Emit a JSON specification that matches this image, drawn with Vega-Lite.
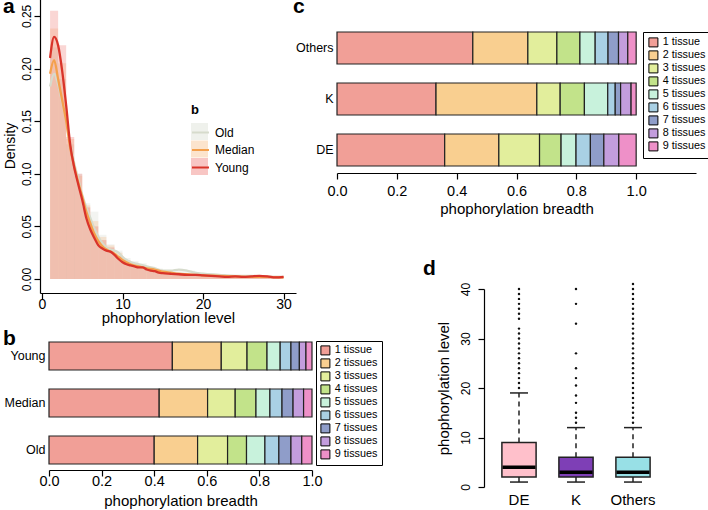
{
  "$schema": "https://vega.github.io/schema/vega-lite/v6.json",
  "padding": {"left": 2, "top": -4, "right": 0, "bottom": 0},
  "config": {
    "font": "Liberation Sans",
    "view": {"stroke": null},
    "axis": {"domainColor": "black", "tickColor": "black", "labelColor": "black", "titleColor": "black", "grid": false, "titleFontWeight": "normal", "domainWidth": 1.2, "tickWidth": 1.2, "tickSize": 6, "labelFlush": false, "labelOverlap": false},
    "legend": {"labelColor": "black", "titleColor": "black"},
    "title": {"fontSize": 21, "fontWeight": "bold", "anchor": "start", "frame": "group", "baseline": "top", "color": "black"}
  },
  "datasets": {
    "hist": [
      {"grp": "Old", "x0": 1, "x1": 2, "d": 0.22}, {"grp": "Old", "x0": 2, "x1": 3, "d": 0.19}, {"grp": "Old", "x0": 3, "x1": 4, "d": 0.128}, {"grp": "Old", "x0": 4, "x1": 5, "d": 0.1}, {"grp": "Old", "x0": 5, "x1": 6, "d": 0.072}, {"grp": "Old", "x0": 6, "x1": 7, "d": 0.064}, {"grp": "Old", "x0": 7, "x1": 8, "d": 0.042}, {"grp": "Old", "x0": 8, "x1": 9, "d": 0.033}, {"grp": "Old", "x0": 9, "x1": 10, "d": 0.027}, {"grp": "Old", "x0": 10, "x1": 11, "d": 0.02}, {"grp": "Old", "x0": 11, "x1": 12, "d": 0.017}, {"grp": "Old", "x0": 12, "x1": 13, "d": 0.015}, {"grp": "Old", "x0": 13, "x1": 14, "d": 0.012}, {"grp": "Old", "x0": 14, "x1": 15, "d": 0.01}, {"grp": "Old", "x0": 15, "x1": 16, "d": 0.008}, {"grp": "Old", "x0": 16, "x1": 17, "d": 0.008}, {"grp": "Old", "x0": 17, "x1": 18, "d": 0.009}, {"grp": "Old", "x0": 18, "x1": 19, "d": 0.008}, {"grp": "Old", "x0": 19, "x1": 20, "d": 0.006}, {"grp": "Old", "x0": 20, "x1": 21, "d": 0.005}, {"grp": "Old", "x0": 21, "x1": 22, "d": 0.004}, {"grp": "Old", "x0": 22, "x1": 23, "d": 0.003}, {"grp": "Old", "x0": 23, "x1": 24, "d": 0.003}, {"grp": "Old", "x0": 24, "x1": 25, "d": 0.003}, {"grp": "Old", "x0": 25, "x1": 26, "d": 0.003}, {"grp": "Old", "x0": 26, "x1": 27, "d": 0.003}, {"grp": "Old", "x0": 27, "x1": 28, "d": 0.003}, {"grp": "Old", "x0": 28, "x1": 29, "d": 0.003}, {"grp": "Old", "x0": 29, "x1": 30, "d": 0.003},
      {"grp": "Median", "x0": 1, "x1": 2, "d": 0.238}, {"grp": "Median", "x0": 2, "x1": 3, "d": 0.205}, {"grp": "Median", "x0": 3, "x1": 4, "d": 0.133}, {"grp": "Median", "x0": 4, "x1": 5, "d": 0.098}, {"grp": "Median", "x0": 5, "x1": 6, "d": 0.07}, {"grp": "Median", "x0": 6, "x1": 7, "d": 0.055}, {"grp": "Median", "x0": 7, "x1": 8, "d": 0.04}, {"grp": "Median", "x0": 8, "x1": 9, "d": 0.032}, {"grp": "Median", "x0": 9, "x1": 10, "d": 0.025}, {"grp": "Median", "x0": 10, "x1": 11, "d": 0.018}, {"grp": "Median", "x0": 11, "x1": 12, "d": 0.014}, {"grp": "Median", "x0": 12, "x1": 13, "d": 0.012}, {"grp": "Median", "x0": 13, "x1": 14, "d": 0.01}, {"grp": "Median", "x0": 14, "x1": 15, "d": 0.009}, {"grp": "Median", "x0": 15, "x1": 16, "d": 0.007}, {"grp": "Median", "x0": 16, "x1": 17, "d": 0.006}, {"grp": "Median", "x0": 17, "x1": 18, "d": 0.005}, {"grp": "Median", "x0": 18, "x1": 19, "d": 0.005}, {"grp": "Median", "x0": 19, "x1": 20, "d": 0.004}, {"grp": "Median", "x0": 20, "x1": 21, "d": 0.004}, {"grp": "Median", "x0": 21, "x1": 22, "d": 0.003}, {"grp": "Median", "x0": 22, "x1": 23, "d": 0.003}, {"grp": "Median", "x0": 23, "x1": 24, "d": 0.003}, {"grp": "Median", "x0": 24, "x1": 25, "d": 0.003}, {"grp": "Median", "x0": 25, "x1": 26, "d": 0.003}, {"grp": "Median", "x0": 26, "x1": 27, "d": 0.003}, {"grp": "Median", "x0": 27, "x1": 28, "d": 0.003}, {"grp": "Median", "x0": 28, "x1": 29, "d": 0.003}, {"grp": "Median", "x0": 29, "x1": 30, "d": 0.003},
      {"grp": "Young", "x0": 1, "x1": 2, "d": 0.255}, {"grp": "Young", "x0": 2, "x1": 3, "d": 0.222}, {"grp": "Young", "x0": 3, "x1": 4, "d": 0.135}, {"grp": "Young", "x0": 4, "x1": 5, "d": 0.1}, {"grp": "Young", "x0": 5, "x1": 6, "d": 0.068}, {"grp": "Young", "x0": 6, "x1": 7, "d": 0.05}, {"grp": "Young", "x0": 7, "x1": 8, "d": 0.037}, {"grp": "Young", "x0": 8, "x1": 9, "d": 0.03}, {"grp": "Young", "x0": 9, "x1": 10, "d": 0.022}, {"grp": "Young", "x0": 10, "x1": 11, "d": 0.016}, {"grp": "Young", "x0": 11, "x1": 12, "d": 0.013}, {"grp": "Young", "x0": 12, "x1": 13, "d": 0.011}, {"grp": "Young", "x0": 13, "x1": 14, "d": 0.009}, {"grp": "Young", "x0": 14, "x1": 15, "d": 0.007}, {"grp": "Young", "x0": 15, "x1": 16, "d": 0.006}, {"grp": "Young", "x0": 16, "x1": 17, "d": 0.005}, {"grp": "Young", "x0": 17, "x1": 18, "d": 0.005}, {"grp": "Young", "x0": 18, "x1": 19, "d": 0.004}, {"grp": "Young", "x0": 19, "x1": 20, "d": 0.004}, {"grp": "Young", "x0": 20, "x1": 21, "d": 0.003}, {"grp": "Young", "x0": 21, "x1": 22, "d": 0.003}, {"grp": "Young", "x0": 22, "x1": 23, "d": 0.003}, {"grp": "Young", "x0": 23, "x1": 24, "d": 0.003}, {"grp": "Young", "x0": 24, "x1": 25, "d": 0.003}, {"grp": "Young", "x0": 25, "x1": 26, "d": 0.003}, {"grp": "Young", "x0": 26, "x1": 27, "d": 0.003}, {"grp": "Young", "x0": 27, "x1": 28, "d": 0.003}, {"grp": "Young", "x0": 28, "x1": 29, "d": 0.003}, {"grp": "Young", "x0": 29, "x1": 30, "d": 0.003}
    ],
    "dens": [
      {"grp": "Old", "x": 1, "d": 0.183}, {"grp": "Old", "x": 1.5, "d": 0.195}, {"grp": "Old", "x": 2, "d": 0.185}, {"grp": "Old", "x": 2.5, "d": 0.168}, {"grp": "Old", "x": 3, "d": 0.15}, {"grp": "Old", "x": 3.5, "d": 0.128}, {"grp": "Old", "x": 4, "d": 0.11}, {"grp": "Old", "x": 4.5, "d": 0.095}, {"grp": "Old", "x": 5, "d": 0.08}, {"grp": "Old", "x": 5.5, "d": 0.068}, {"grp": "Old", "x": 6, "d": 0.058}, {"grp": "Old", "x": 6.5, "d": 0.048}, {"grp": "Old", "x": 7, "d": 0.04}, {"grp": "Old", "x": 7.5, "d": 0.034}, {"grp": "Old", "x": 8, "d": 0.03}, {"grp": "Old", "x": 8.5, "d": 0.028}, {"grp": "Old", "x": 9, "d": 0.027}, {"grp": "Old", "x": 9.5, "d": 0.025}, {"grp": "Old", "x": 10, "d": 0.021}, {"grp": "Old", "x": 10.5, "d": 0.018}, {"grp": "Old", "x": 11, "d": 0.016}, {"grp": "Old", "x": 12, "d": 0.014}, {"grp": "Old", "x": 13, "d": 0.012}, {"grp": "Old", "x": 14, "d": 0.01}, {"grp": "Old", "x": 15, "d": 0.008}, {"grp": "Old", "x": 16, "d": 0.008}, {"grp": "Old", "x": 17, "d": 0.009}, {"grp": "Old", "x": 18, "d": 0.008}, {"grp": "Old", "x": 19, "d": 0.006}, {"grp": "Old", "x": 20, "d": 0.005}, {"grp": "Old", "x": 22, "d": 0.004}, {"grp": "Old", "x": 24, "d": 0.003}, {"grp": "Old", "x": 26, "d": 0.003}, {"grp": "Old", "x": 28, "d": 0.002}, {"grp": "Old", "x": 30, "d": 0.002},
      {"grp": "Median", "x": 1, "d": 0.195}, {"grp": "Median", "x": 1.5, "d": 0.208}, {"grp": "Median", "x": 2, "d": 0.19}, {"grp": "Median", "x": 2.5, "d": 0.17}, {"grp": "Median", "x": 3, "d": 0.15}, {"grp": "Median", "x": 3.5, "d": 0.125}, {"grp": "Median", "x": 4, "d": 0.107}, {"grp": "Median", "x": 4.5, "d": 0.092}, {"grp": "Median", "x": 5, "d": 0.078}, {"grp": "Median", "x": 5.5, "d": 0.064}, {"grp": "Median", "x": 6, "d": 0.053}, {"grp": "Median", "x": 6.5, "d": 0.043}, {"grp": "Median", "x": 7, "d": 0.036}, {"grp": "Median", "x": 7.5, "d": 0.031}, {"grp": "Median", "x": 8, "d": 0.028}, {"grp": "Median", "x": 8.5, "d": 0.026}, {"grp": "Median", "x": 9, "d": 0.024}, {"grp": "Median", "x": 9.5, "d": 0.021}, {"grp": "Median", "x": 10, "d": 0.018}, {"grp": "Median", "x": 11, "d": 0.014}, {"grp": "Median", "x": 12, "d": 0.012}, {"grp": "Median", "x": 13, "d": 0.01}, {"grp": "Median", "x": 14, "d": 0.009}, {"grp": "Median", "x": 15, "d": 0.007}, {"grp": "Median", "x": 16, "d": 0.006}, {"grp": "Median", "x": 17, "d": 0.005}, {"grp": "Median", "x": 18, "d": 0.0045}, {"grp": "Median", "x": 19, "d": 0.004}, {"grp": "Median", "x": 20, "d": 0.0035}, {"grp": "Median", "x": 22, "d": 0.003}, {"grp": "Median", "x": 24, "d": 0.0025}, {"grp": "Median", "x": 26, "d": 0.002}, {"grp": "Median", "x": 28, "d": 0.002}, {"grp": "Median", "x": 30, "d": 0.0015},
      {"grp": "Young", "x": 1, "d": 0.21}, {"grp": "Young", "x": 1.5, "d": 0.23}, {"grp": "Young", "x": 2, "d": 0.222}, {"grp": "Young", "x": 2.5, "d": 0.198}, {"grp": "Young", "x": 3, "d": 0.165}, {"grp": "Young", "x": 3.5, "d": 0.128}, {"grp": "Young", "x": 4, "d": 0.106}, {"grp": "Young", "x": 4.5, "d": 0.09}, {"grp": "Young", "x": 5, "d": 0.075}, {"grp": "Young", "x": 5.5, "d": 0.058}, {"grp": "Young", "x": 6, "d": 0.047}, {"grp": "Young", "x": 6.5, "d": 0.039}, {"grp": "Young", "x": 7, "d": 0.032}, {"grp": "Young", "x": 7.5, "d": 0.029}, {"grp": "Young", "x": 8, "d": 0.027}, {"grp": "Young", "x": 8.5, "d": 0.026}, {"grp": "Young", "x": 9, "d": 0.023}, {"grp": "Young", "x": 9.5, "d": 0.019}, {"grp": "Young", "x": 10, "d": 0.016}, {"grp": "Young", "x": 10.5, "d": 0.014}, {"grp": "Young", "x": 11, "d": 0.013}, {"grp": "Young", "x": 11.5, "d": 0.012}, {"grp": "Young", "x": 12, "d": 0.011}, {"grp": "Young", "x": 12.5, "d": 0.011}, {"grp": "Young", "x": 13, "d": 0.009}, {"grp": "Young", "x": 13.5, "d": 0.008}, {"grp": "Young", "x": 14, "d": 0.0075}, {"grp": "Young", "x": 14.5, "d": 0.006}, {"grp": "Young", "x": 15, "d": 0.0055}, {"grp": "Young", "x": 16, "d": 0.005}, {"grp": "Young", "x": 17, "d": 0.0045}, {"grp": "Young", "x": 18, "d": 0.004}, {"grp": "Young", "x": 19, "d": 0.004}, {"grp": "Young", "x": 20, "d": 0.0035}, {"grp": "Young", "x": 21, "d": 0.003}, {"grp": "Young", "x": 22, "d": 0.0025}, {"grp": "Young", "x": 23, "d": 0.002}, {"grp": "Young", "x": 24, "d": 0.0025}, {"grp": "Young", "x": 25, "d": 0.002}, {"grp": "Young", "x": 26, "d": 0.0025}, {"grp": "Young", "x": 27, "d": 0.003}, {"grp": "Young", "x": 28, "d": 0.0025}, {"grp": "Young", "x": 29, "d": 0.0015}, {"grp": "Young", "x": 30, "d": 0.002}
    ],
    "breadthAge": [
      {"group": "Young", "tissue": "1 tissue", "start": 0, "end": 0.469}, {"group": "Young", "tissue": "2 tissues", "start": 0.469, "end": 0.655}, {"group": "Young", "tissue": "3 tissues", "start": 0.655, "end": 0.753}, {"group": "Young", "tissue": "4 tissues", "start": 0.753, "end": 0.829}, {"group": "Young", "tissue": "5 tissues", "start": 0.829, "end": 0.879}, {"group": "Young", "tissue": "6 tissues", "start": 0.879, "end": 0.92}, {"group": "Young", "tissue": "7 tissues", "start": 0.92, "end": 0.952}, {"group": "Young", "tissue": "8 tissues", "start": 0.952, "end": 0.977}, {"group": "Young", "tissue": "9 tissues", "start": 0.977, "end": 1},
      {"group": "Median", "tissue": "1 tissue", "start": 0, "end": 0.419}, {"group": "Median", "tissue": "2 tissues", "start": 0.419, "end": 0.603}, {"group": "Median", "tissue": "3 tissues", "start": 0.603, "end": 0.708}, {"group": "Median", "tissue": "4 tissues", "start": 0.708, "end": 0.787}, {"group": "Median", "tissue": "5 tissues", "start": 0.787, "end": 0.84}, {"group": "Median", "tissue": "6 tissues", "start": 0.84, "end": 0.886}, {"group": "Median", "tissue": "7 tissues", "start": 0.886, "end": 0.928}, {"group": "Median", "tissue": "8 tissues", "start": 0.928, "end": 0.968}, {"group": "Median", "tissue": "9 tissues", "start": 0.968, "end": 1},
      {"group": "Old", "tissue": "1 tissue", "start": 0, "end": 0.4}, {"group": "Old", "tissue": "2 tissues", "start": 0.4, "end": 0.565}, {"group": "Old", "tissue": "3 tissues", "start": 0.565, "end": 0.679}, {"group": "Old", "tissue": "4 tissues", "start": 0.679, "end": 0.751}, {"group": "Old", "tissue": "5 tissues", "start": 0.751, "end": 0.821}, {"group": "Old", "tissue": "6 tissues", "start": 0.821, "end": 0.874}, {"group": "Old", "tissue": "7 tissues", "start": 0.874, "end": 0.92}, {"group": "Old", "tissue": "8 tissues", "start": 0.92, "end": 0.961}, {"group": "Old", "tissue": "9 tissues", "start": 0.961, "end": 1}
    ],
    "breadthKin": [
      {"group": "Others", "tissue": "1 tissue", "start": 0, "end": 0.454}, {"group": "Others", "tissue": "2 tissues", "start": 0.454, "end": 0.638}, {"group": "Others", "tissue": "3 tissues", "start": 0.638, "end": 0.735}, {"group": "Others", "tissue": "4 tissues", "start": 0.735, "end": 0.812}, {"group": "Others", "tissue": "5 tissues", "start": 0.812, "end": 0.863}, {"group": "Others", "tissue": "6 tissues", "start": 0.863, "end": 0.906}, {"group": "Others", "tissue": "7 tissues", "start": 0.906, "end": 0.941}, {"group": "Others", "tissue": "8 tissues", "start": 0.941, "end": 0.972}, {"group": "Others", "tissue": "9 tissues", "start": 0.972, "end": 1},
      {"group": "K", "tissue": "1 tissue", "start": 0, "end": 0.331}, {"group": "K", "tissue": "2 tissues", "start": 0.331, "end": 0.668}, {"group": "K", "tissue": "3 tissues", "start": 0.668, "end": 0.746}, {"group": "K", "tissue": "4 tissues", "start": 0.746, "end": 0.827}, {"group": "K", "tissue": "5 tissues", "start": 0.827, "end": 0.905}, {"group": "K", "tissue": "6 tissues", "start": 0.905, "end": 0.93}, {"group": "K", "tissue": "7 tissues", "start": 0.93, "end": 0.948}, {"group": "K", "tissue": "8 tissues", "start": 0.948, "end": 0.983}, {"group": "K", "tissue": "9 tissues", "start": 0.983, "end": 1},
      {"group": "DE", "tissue": "1 tissue", "start": 0, "end": 0.36}, {"group": "DE", "tissue": "2 tissues", "start": 0.36, "end": 0.541}, {"group": "DE", "tissue": "3 tissues", "start": 0.541, "end": 0.677}, {"group": "DE", "tissue": "4 tissues", "start": 0.677, "end": 0.749}, {"group": "DE", "tissue": "5 tissues", "start": 0.749, "end": 0.799}, {"group": "DE", "tissue": "6 tissues", "start": 0.799, "end": 0.847}, {"group": "DE", "tissue": "7 tissues", "start": 0.847, "end": 0.892}, {"group": "DE", "tissue": "8 tissues", "start": 0.892, "end": 0.942}, {"group": "DE", "tissue": "9 tissues", "start": 0.942, "end": 1}
    ],
    "boxes": [
      {"cat": "DE", "lo": 1, "q1": 2, "med": 4, "q3": 9, "hi": 19},
      {"cat": "K", "lo": 1, "q1": 2, "med": 3, "q3": 6, "hi": 12},
      {"cat": "Others", "lo": 1, "q1": 2, "med": 3, "q3": 6, "hi": 12}
    ],
    "outliers": [
      {"cat": "DE", "v": 20}, {"cat": "DE", "v": 21}, {"cat": "DE", "v": 22}, {"cat": "DE", "v": 23}, {"cat": "DE", "v": 24}, {"cat": "DE", "v": 25}, {"cat": "DE", "v": 26}, {"cat": "DE", "v": 27}, {"cat": "DE", "v": 28}, {"cat": "DE", "v": 29}, {"cat": "DE", "v": 30}, {"cat": "DE", "v": 31}, {"cat": "DE", "v": 32}, {"cat": "DE", "v": 34}, {"cat": "DE", "v": 35}, {"cat": "DE", "v": 36}, {"cat": "DE", "v": 37}, {"cat": "DE", "v": 38}, {"cat": "DE", "v": 39}, {"cat": "DE", "v": 40},
      {"cat": "K", "v": 13}, {"cat": "K", "v": 14}, {"cat": "K", "v": 15}, {"cat": "K", "v": 17}, {"cat": "K", "v": 18.5}, {"cat": "K", "v": 20.5}, {"cat": "K", "v": 22}, {"cat": "K", "v": 24}, {"cat": "K", "v": 27}, {"cat": "K", "v": 33}, {"cat": "K", "v": 37}, {"cat": "K", "v": 40},
      {"cat": "Others", "v": 13}, {"cat": "Others", "v": 14}, {"cat": "Others", "v": 15}, {"cat": "Others", "v": 16}, {"cat": "Others", "v": 17}, {"cat": "Others", "v": 18}, {"cat": "Others", "v": 19}, {"cat": "Others", "v": 20}, {"cat": "Others", "v": 21}, {"cat": "Others", "v": 22}, {"cat": "Others", "v": 23}, {"cat": "Others", "v": 24}, {"cat": "Others", "v": 25}, {"cat": "Others", "v": 26}, {"cat": "Others", "v": 27}, {"cat": "Others", "v": 28}, {"cat": "Others", "v": 29}, {"cat": "Others", "v": 30}, {"cat": "Others", "v": 31}, {"cat": "Others", "v": 32}, {"cat": "Others", "v": 33}, {"cat": "Others", "v": 34}, {"cat": "Others", "v": 35}, {"cat": "Others", "v": 36}, {"cat": "Others", "v": 37}, {"cat": "Others", "v": 38}, {"cat": "Others", "v": 39}, {"cat": "Others", "v": 40}, {"cat": "Others", "v": 41}
    ]
  },
  "bounds": "flush",
  "spacing": 297,
  "resolve": {"scale": {"fill": "independent", "stroke": "independent"}, "legend": {"fill": "independent", "stroke": "independent"}},
  "hconcat": [
    {
      "bounds": "flush",
      "spacing": 43,
      "resolve": {"scale": {"fill": "independent", "stroke": "independent"}, "legend": {"fill": "independent", "stroke": "independent"}},
      "vconcat": [
        {
          "width": 256,
          "height": 295,
          "title": {"text": "a", "dx": -37, "offset": -19.4},
          "layer": [
            {
              "data": {"name": "hist"},
              "mark": {"type": "bar", "opacity": 0.22},
              "encoding": {
                "x": {"field": "x0", "type": "quantitative", "scale": {"domain": [-0.25, 31.55], "nice": false, "zero": false}, "axis": {"values": [0, 10, 20, 30], "title": "phophorylation level", "titleFontSize": 15, "labelFontSize": 14, "labelPadding": -2, "titlePadding": -1}},
                "x2": {"field": "x1"},
                "y": {"field": "d", "type": "quantitative", "scale": {"domain": [-0.0133, 0.267], "nice": false, "zero": false}, "axis": {"values": [0, 0.05, 0.1, 0.15, 0.2, 0.25], "format": ".2f", "labelAngle": -90, "labelFontSize": 12, "labelPadding": 1, "title": "Density", "titleFontSize": 14, "titlePadding": 3}},
                "y2": {"datum": 0},
                "fill": {"field": "grp", "type": "nominal", "sort": ["Old", "Median", "Young"], "scale": {"range": ["#c9cfbf", "#f5a55a", "#e8433a"]}, "legend": {"title": "b", "orient": "none", "legendX": 151, "legendY": 106, "symbolType": "square", "symbolSize": 289, "symbolOpacity": 0.3, "symbolStrokeWidth": 0, "rowPadding": 0.5, "labelFontSize": 12, "labelOpacity": 0, "titleOpacity": 0, "titleFontSize": 13, "titlePadding": 6, "labelOffset": 5}}
              }
            },
            {
              "data": {"name": "dens"},
              "mark": {"type": "line", "interpolate": "monotone", "strokeWidth": 2.3},
              "encoding": {
                "x": {"field": "x", "type": "quantitative"},
                "y": {"field": "d", "type": "quantitative"},
                "stroke": {"field": "grp", "type": "nominal", "scale": {"domain": ["Old", "Median", "Young"], "range": ["#d6dbcc", "#f4a04c", "#d9342a"]}, "legend": {"title": "b", "orient": "none", "legendX": 151, "legendY": 106, "symbolType": "stroke", "symbolSize": 289, "symbolStrokeWidth": 2, "rowPadding": 1.5, "labelFontSize": 12, "titleFontSize": 13, "titlePadding": 6, "labelOffset": 5}}
              }
            }
          ]
        },
        {
          "bounds": "flush",
          "spacing": 0,
          "hconcat": [
            {"width": 9, "height": 1, "data": {"values": []}, "mark": "point"},
            {
              "width": 263,
              "height": 134,
              "title": {"text": "b", "dx": -46, "offset": -13.4},
              "data": {"name": "breadthAge"},
              "mark": {"type": "bar", "stroke": "#222222", "strokeWidth": 1.2},
              "encoding": {
                "y": {"field": "group", "type": "nominal", "scale": {"domain": ["Young", "Median", "Old"], "paddingInner": 0.404, "paddingOuter": 0.1275}, "axis": {"title": null, "domain": false, "ticks": false, "labelFontSize": 12.5, "labelPadding": 4}},
                "x": {"field": "start", "type": "quantitative", "scale": {"domain": [0, 1], "nice": false}, "axis": {"values": [0, 0.2, 0.4, 0.6, 0.8, 1], "format": ".1f", "title": "phophorylation breadth", "titleFontSize": 15, "labelFontSize": 14.5, "labelPadding": -2, "titlePadding": 6}},
                "x2": {"field": "end"},
                "fill": {"field": "tissue", "type": "nominal", "scale": {"domain": ["1 tissue", "2 tissues", "3 tissues", "4 tissues", "5 tissues", "6 tissues", "7 tissues", "8 tissues", "9 tissues"], "range": ["#f19f97", "#f9cf90", "#e2ee9c", "#c2e38a", "#c8f2dc", "#a9d0e4", "#8f9dc9", "#c39ddd", "#ee90c8"]}, "legend": {"title": null, "orient": "none", "legendX": 276, "legendY": 5, "strokeColor": "black", "padding": 4, "symbolType": "square", "symbolSize": 81, "symbolStrokeColor": "black", "symbolStrokeWidth": 1, "symbolOpacity": 1, "labelFontSize": 10.8, "rowPadding": -1, "labelOffset": 4}}
              }
            }
          ]
        }
      ]
    },
    {
      "bounds": "flush",
      "spacing": 116,
      "resolve": {"scale": {"fill": "independent"}, "legend": {"fill": "independent"}},
      "vconcat": [
        {
          "width": 359,
          "height": 175,
          "title": {"text": "c", "dx": -44, "offset": -19.4},
          "data": {"name": "breadthKin"},
          "mark": {"type": "bar", "stroke": "#222222", "strokeWidth": 1.2},
          "encoding": {
            "y": {"field": "group", "type": "nominal", "scale": {"domain": ["Others", "K", "DE"], "paddingInner": 0.3725, "paddingOuter": 0.402, "align": 0.829}, "axis": {"title": null, "domain": false, "ticks": false, "labelFontSize": 12.5, "labelPadding": 4}},
            "x": {"field": "start", "type": "quantitative", "scale": {"domain": [0, 1.2], "nice": false}, "axis": {"values": [0, 0.2, 0.4, 0.6, 0.8, 1], "format": ".1f", "title": "phophorylation breadth", "titleFontSize": 15, "labelFontSize": 14.5, "labelPadding": 5, "titlePadding": 4}},
            "x2": {"field": "end"},
            "fill": {"field": "tissue", "type": "nominal", "scale": {"domain": ["1 tissue", "2 tissues", "3 tissues", "4 tissues", "5 tissues", "6 tissues", "7 tissues", "8 tissues", "9 tissues"], "range": ["#f19f97", "#f9cf90", "#e2ee9c", "#c2e38a", "#c8f2dc", "#a9d0e4", "#8f9dc9", "#c39ddd", "#ee90c8"]}, "legend": {"title": null, "orient": "none", "legendX": 306, "legendY": 34, "strokeColor": "black", "padding": 5, "symbolType": "square", "symbolSize": 81, "symbolStrokeColor": "black", "symbolStrokeWidth": 1, "symbolOpacity": 1, "labelFontSize": 10.8, "rowPadding": -1, "labelOffset": 4}}
          }
        },
        {
          "bounds": "flush",
          "spacing": 0,
          "hconcat": [
            {"width": 147, "height": 1, "data": {"values": []}, "mark": "point"},
            {
              "width": 184,
              "height": 198,
              "title": {"text": "d", "dx": -61, "offset": 3},
              "encoding": {
                "x": {"field": "cat", "type": "nominal", "scale": {"domain": ["DE", "K", "Others"], "paddingInner": 0, "paddingOuter": 0.114}, "axis": {"title": null, "domain": false, "ticks": false, "labelAngle": 0, "labelFontSize": 15, "labelPadding": 5}}
              },
              "layer": [
                {
                  "data": {"name": "boxes"},
                  "mark": {"type": "rule", "strokeDash": [5, 4], "strokeWidth": 1.5, "color": "#222222"},
                  "encoding": {"y": {"field": "q3", "type": "quantitative", "scale": {"domain": [0, 40], "nice": false, "zero": false}, "axis": {"values": [0, 10, 20, 30, 40], "labelAngle": -90, "labelFontSize": 12, "labelPadding": 6, "title": "phophorylation level", "titleFontSize": 15, "titlePadding": 8}}, "y2": {"field": "hi"}}
                },
                {
                  "data": {"name": "boxes"},
                  "mark": {"type": "rule", "strokeDash": [5, 4], "strokeWidth": 1.5, "color": "#222222"},
                  "encoding": {"y": {"field": "lo", "type": "quantitative"}, "y2": {"field": "q1"}}
                },
                {
                  "data": {"name": "boxes"},
                  "mark": {"type": "bar", "width": {"band": 0.6}, "stroke": "#222222", "strokeWidth": 1.5},
                  "encoding": {
                    "y": {"field": "q1", "type": "quantitative"},
                    "y2": {"field": "q3"},
                    "fill": {"field": "cat", "type": "nominal", "scale": {"domain": ["DE", "K", "Others"], "range": ["#ffc0cb", "#7e3fb6", "#98e0e6"]}, "legend": null}
                  }
                },
                {
                  "data": {"name": "boxes"},
                  "mark": {"type": "tick", "size": 33, "thickness": 3.5, "color": "black", "opacity": 1},
                  "encoding": {"y": {"field": "med", "type": "quantitative"}}
                },
                {
                  "data": {"name": "boxes"},
                  "mark": {"type": "tick", "size": 18, "thickness": 1.5, "color": "#222222", "opacity": 1},
                  "encoding": {"y": {"field": "hi", "type": "quantitative"}}
                },
                {
                  "data": {"name": "boxes"},
                  "mark": {"type": "tick", "size": 18, "thickness": 1.5, "color": "#222222", "opacity": 1},
                  "encoding": {"y": {"field": "lo", "type": "quantitative"}}
                },
                {
                  "data": {"name": "outliers"},
                  "mark": {"type": "circle", "size": 6, "color": "#111111", "opacity": 1},
                  "encoding": {"y": {"field": "v", "type": "quantitative"}}
                }
              ]
            }
          ]
        }
      ]
    }
  ]
}
